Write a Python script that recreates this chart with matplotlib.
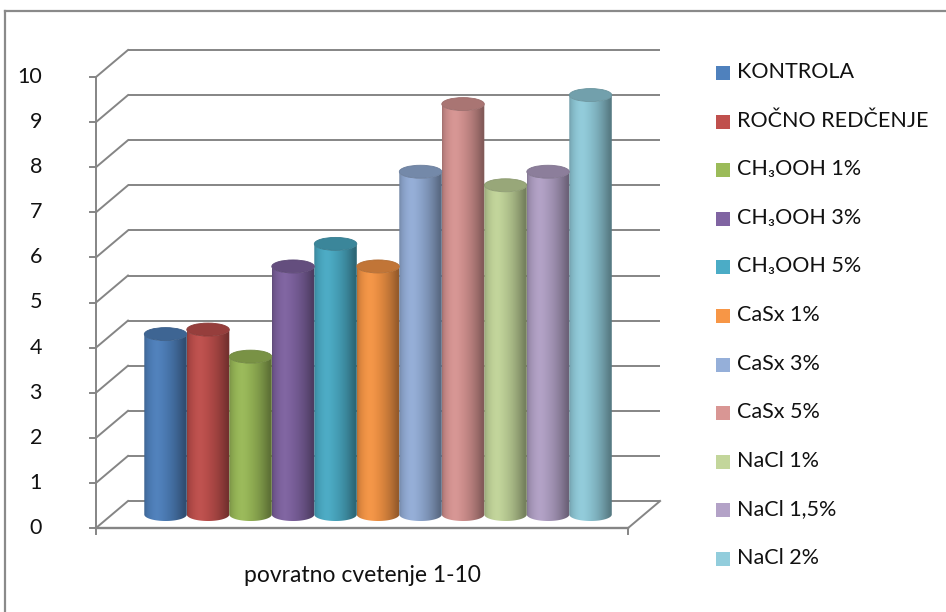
import numpy as np
import matplotlib
matplotlib.use("Agg")
import matplotlib.pyplot as plt
from matplotlib.path import Path
from matplotlib.patches import PathPatch, Ellipse, Rectangle
from matplotlib.lines import Line2D
from matplotlib.colors import to_rgb

plt.rcParams['font.family'] = ['Lato', 'DejaVu Sans']

# ---- data ----
series = ["KONTROLA", "ROČNO REDČENJE", "CH₃OOH 1%", "CH₃OOH 3%", "CH₃OOH 5%",
          "CaSx 1%", "CaSx 3%", "CaSx 5%", "NaCl 1%", "NaCl 1,5%", "NaCl 2%"]
values = [4.0, 4.1, 3.5, 5.5, 6.0, 5.5, 7.6, 9.1, 7.3, 7.6, 9.3]
colors = ["#4F81BD", "#C0504D", "#9BBB59", "#8064A2", "#4BACC6", "#F79646",
          "#95AFD9", "#D99694", "#C3D69B", "#B3A2C7", "#92CDDC"]
yticks = list(range(0, 11))
category = "povratno cvetenje 1-10"

# ---- layout (pixel based pseudo-3D frame) ----
W_PX, H_PX = 946, 612
BW = 42.5          # px per bar slot
VS = 45.1          # px per value unit
ORIGIN_X, ORIGIN_Y = 96, 528   # front-left floor corner
DX = 32 / BW       # depth shift (x, data units)
DY = 27 / VS       # depth shift (y, data units)
MARGIN = 0.76      # side margin on the floor, in slots
n = len(values)
FLOOR_W = n + 2 * MARGIN
YMAX = 10
GRID = "#858585"
TXT = "#111111"
FS = 15.5

fig = plt.figure(figsize=(W_PX / 100, H_PX / 100), dpi=100)
ax = fig.add_axes([0, 0, 1, 1])
ax.set_xlim(-ORIGIN_X / BW, (W_PX - ORIGIN_X) / BW)
ax.set_ylim(-(H_PX - ORIGIN_Y) / VS, ORIGIN_Y / VS)
ax.axis("off")

# outer chart frame
fig.add_artist(Line2D([5 / W_PX, 1.0], [1 - 11 / H_PX, 1 - 11 / H_PX],
                      transform=fig.transFigure, color="#8a8a8a", lw=1.6))
fig.add_artist(Line2D([5 / W_PX, 5 / W_PX], [0, 1 - 11 / H_PX],
                      transform=fig.transFigure, color="#8a8a8a", lw=1.6))

# back wall gridlines and side wall diagonals
for v in yticks:
    ax.plot([DX, FLOOR_W + DX], [v + DY, v + DY], color=GRID, lw=1.4,
            solid_capstyle="butt", zorder=1)
    ax.plot([0, DX], [v, v + DY], color=GRID, lw=1.4, zorder=1)
    ax.plot([-6 / BW, 0], [v, v], color=GRID, lw=1.4, zorder=1)
    ax.text((42 - ORIGIN_X) / BW, v, str(v), ha="right", va="center",
            fontsize=FS, color=TXT)

# front vertical axis
ax.plot([0, 0], [0, YMAX], color=GRID, lw=1.4, zorder=1)
# floor front edge, right diagonal, and bottom ticks
ax.plot([0, FLOOR_W], [0, 0], color=GRID, lw=1.7, zorder=1)
ax.plot([FLOOR_W, FLOOR_W + DX], [0, DY], color=GRID, lw=1.4, zorder=1)
for xx in (0, FLOOR_W):
    ax.plot([xx, xx], [0, -6 / VS], color=GRID, lw=1.4, zorder=1)

ax.text(FLOOR_W / 2, -(576 - ORIGIN_Y) / VS, category, ha="center", va="center",
        fontsize=16.5, color=TXT)

# ---- cylinders ----
EH = 6.5 / VS      # semi-minor axis of the end ellipses
prof_n = 300
t = np.linspace(0, 1, prof_n)
xn = 2 * t - 1
nz = np.sqrt(np.clip(1 - xn ** 2, 0, 1))
light = np.array([-0.4, 0.92])
light = light / np.linalg.norm(light)
diff = np.clip(xn * light[0] + nz * light[1], 0, 1)
factor = 0.60 + 0.37 * diff ** 1.4
spec = 0.02 * diff ** 20

base_y = DY / 2
for i, (v, c) in enumerate(zip(values, colors)):
    rgb = np.array(to_rgb(c))
    x0 = MARGIN + DX / 2 + i
    x1 = x0 + 1
    xc = x0 + 0.5
    top = base_y + v

    img = np.clip(rgb[None, :] * factor[:, None] + spec[:, None], 0, 1)[None, :, :]

    th = np.linspace(np.pi, 2 * np.pi, 60)
    bottom = np.column_stack([xc + 0.5 * np.cos(th), base_y + EH * np.sin(th)])
    th2 = np.linspace(2 * np.pi, np.pi, 60)
    topcurve = np.column_stack([xc + 0.5 * np.cos(th2), top + EH * np.sin(th2)])
    verts = np.vstack([[[x0, top]], bottom, [[x1, top]], topcurve, [[x0, top]]])
    body = PathPatch(Path(verts), transform=ax.transData, facecolor="none",
                     edgecolor="none")
    im = ax.imshow(img, extent=(x0, x1, base_y - EH, top), aspect="auto",
                   interpolation="bilinear", zorder=3 + i * 0.01)
    im.set_clip_path(body)

    top_col = np.clip(rgb * 0.78, 0, 1)
    ax.add_patch(Ellipse((xc, top), 1.0, 2 * EH, facecolor=top_col,
                         edgecolor=np.clip(rgb * 0.72, 0, 1), lw=0.6,
                         zorder=3.5 + i * 0.01))

# ---- legend ----
leg_y0, leg_dy = 73, 48.6
for i, (name, c) in enumerate(zip(series, colors)):
    py = leg_y0 + i * leg_dy
    ax.add_patch(Rectangle(((716 - ORIGIN_X) / BW, (ORIGIN_Y - py - 7) / VS),
                           14 / BW, 14 / VS, facecolor=c, edgecolor="none"))
    ax.text((737 - ORIGIN_X) / BW, (ORIGIN_Y - py + 1) / VS, name, ha="left",
            va="center", fontsize=FS, color=TXT)

fig.savefig("out.png", dpi=100)
